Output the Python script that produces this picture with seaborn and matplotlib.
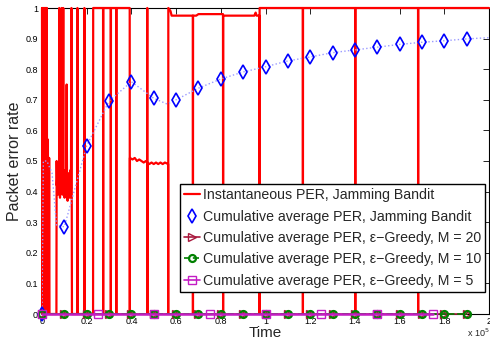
import matplotlib
matplotlib.use("Agg")
import matplotlib.pyplot as plt
from matplotlib.lines import Line2D
import seaborn as sns

# ---------------------------------------------------------------- data
# Instantaneous packet error rate of the jamming bandit (time, PER)
per_time = [
    0, 120, 240, 360, 480, 600, 720, 840, 960, 1080, 1200, 1320, 1440, 1560,
    1680, 1800, 1920, 2040, 2160, 2280,
    2400, 2520, 2640, 2760, 2900, 3050, 3200, 3350,
    6450, 6550, 6650, 6900, 7150, 7400, 7650, 7720, 7800, 8050, 8300, 8550,
    8790, 8880, 9100, 9400, 9510, 9600, 9850, 10100, 10350, 10600, 10850,
    11030, 11200, 11450, 11700, 11950, 12200, 12450, 12700, 12950, 13170, 13400,
    15800, 15850, 15900,
    18920, 18970, 19020,
    22850, 22900,
    27320, 27370, 27420,
    30750, 30800, 30850,
    33210, 33260, 33310,
    39240, 39290, 39340,
    40500, 41500, 42500, 43500, 44500, 45500, 46500, 47050, 47100, 47150,
    47200, 48000, 49000, 50000, 51000, 52000, 53000, 54000, 55000, 56420,
    56470, 56520, 57500, 58000,
    60000, 64000, 67490, 67540, 67590, 69000, 70000, 75000, 80980, 81030,
    81080, 85000, 90000, 95000, 95600, 96000, 97270, 97320, 97370,
    116690, 116740, 116790,
    140130, 140180, 140230,
    168250, 168300, 168350,
    200000,
]
per_value = [
    1, 0, 1, 0, 1, 0, 1, 0, 1, 0, 1, 0, 1, 0,
    1, 0, 1, 0, 1, 0,
    0.57, 0, 0.57, 0, 0.51, 0, 0.51, 0,
    0, 0.50, 0.42, 0.47, 0.39, 0.45, 0.40, 1, 0.44, 0.38, 0.48, 0.41,
    1, 0.46, 0.39, 0.44, 1, 0.40, 0.47, 0.38, 0.45, 0.41, 0.49,
    0.75, 0.42, 0.37, 0.46, 0.40, 0.44, 0.38, 0.47, 0.41, 1, 0,
    0, 1, 0,
    0, 1, 0,
    0, 1,
    1, 0, 1,
    1, 0, 1,
    1, 0, 1,
    1, 0, 0.51,
    0.505, 0.51, 0.50, 0.505, 0.50, 0.495, 0.50, 0.495, 1, 0,
    0.495, 0.49, 0.495, 0.49, 0.495, 0.49, 0.495, 0.49, 0.495, 0.49,
    0, 1, 0.99, 0.975,
    0.975, 0.975, 0.975, 0, 0.975, 0.975, 0.98, 0.98, 0.98, 0,
    0.975, 0.975, 0.975, 0.975, 0.985, 0.975, 0.975, 0, 1,
    1, 0, 1,
    1, 0, 1,
    1, 0, 1,
    1,
]

# Cumulative average PER of the jamming bandit
cum_time = [0, 600, 2200, 4500, 6500, 10000, 20000, 30000, 40000, 50000,
            56000, 60000, 70000, 80000, 90000, 100000, 110000, 120000,
            130000, 140000, 150000, 160000, 170000, 180000, 190000, 200000]
cum_value = [0, 0.50, 0.50, 0.46, 0.29, 0.285, 0.55, 0.696, 0.759, 0.705,
             0.686, 0.700, 0.738, 0.768, 0.791, 0.808, 0.827, 0.840,
             0.854, 0.863, 0.872, 0.881, 0.888, 0.893, 0.899, 0.903]
cum_marker_step = 10000

# Cumulative average PER of epsilon-greedy with M arms
greedy_time = [0, 10000, 20000, 30000, 40000, 50000, 60000, 70000, 80000, 90000,
               100000, 110000, 120000, 130000, 140000, 150000, 160000, 170000,
               180000, 190000]
greedy_m20 = [0, 0, 0, 0, 0, 0, 0, 0, 0, 0, 0, 0, 0, 0, 0, 0, 0, 0, 0, 0]
greedy_m10 = [0, 0, 0, 0, 0, 0, 0, 0, 0, 0, 0, 0, 0, 0, 0, 0, 0, 0, 0, 0]
greedy5_time = [0, 25000, 50000, 75000, 100000, 125000, 150000, 175000]
greedy_m5 = [0, 0, 0, 0, 0, 0, 0, 0]

labels = [
    "Instantaneous PER, Jamming Bandit",
    "Cumulative average PER, Jamming Bandit",
    "Cumulative average PER, \u03b5\u2212Greedy, M = 20",
    "Cumulative average PER, \u03b5\u2212Greedy, M = 10",
    "Cumulative average PER, \u03b5\u2212Greedy, M = 5",
]

xticks = [0, 20000, 40000, 60000, 80000, 100000, 120000, 140000, 160000,
          180000, 200000]
xtick_labels = ["0", "0.2", "0.4", "0.6", "0.8", "1", "1.2", "1.4", "1.6",
                "1.8", "2"]
yticks = [0, 0.1, 0.2, 0.3, 0.4, 0.5, 0.6, 0.7, 0.8, 0.9, 1]
ytick_labels = ["0", "0.1", "0.2", "0.3", "0.4", "0.5", "0.6", "0.7", "0.8",
                "0.9", "1"]

# ---------------------------------------------------------------- style
sns.set_style("white")
plt.rcParams["font.family"] = ["Liberation Sans", "DejaVu Sans"]

RED = "#ff0000"
BLUE = "#0000ff"
DOTTED_BLUE = "#9a9aff"
DARK_RED = "#a8183c"
GREEN = "#008000"
MAGENTA = "#c41cc4"

DIAMOND = dict(marker="d", markersize=7.5, markerfacecolor="none",
               markeredgecolor=BLUE, markeredgewidth=1.2)
TRIANGLE = dict(marker=">", markersize=6, markerfacecolor="none",
                markeredgecolor=DARK_RED, markeredgewidth=1.0)
CIRCLE = dict(marker="o", markersize=5, markerfacecolor="none",
              markeredgecolor=GREEN, markeredgewidth=1.6)
SQUARE = dict(marker="s", markersize=5.5, markerfacecolor="none",
              markeredgecolor=MAGENTA, markeredgewidth=1.0)

fig = plt.figure(figsize=(4.9, 3.41), dpi=100)
ax = fig.add_axes([42 / 490, 27 / 341, 447 / 490, 306 / 341])

# instantaneous PER
sns.lineplot(x=per_time, y=per_value, sort=False, estimator=None, ax=ax,
             color=RED, lw=1.6, zorder=3, clip_on=False)

# cumulative average of the bandit: dotted trace plus diamond markers
sns.lineplot(x=cum_time, y=cum_value, sort=False, estimator=None, ax=ax,
             color=DOTTED_BLUE, lw=1.0, linestyle=":", zorder=4)
mk_t = [t for t in cum_time if t % cum_marker_step == 0 and t < 200000]
mk_v = [v for t, v in zip(cum_time, cum_value)
        if t % cum_marker_step == 0 and t < 200000]
sns.lineplot(x=mk_t, y=mk_v, sort=False, estimator=None, ax=ax,
             linestyle="none", zorder=5, clip_on=False, **DIAMOND)

# epsilon-greedy curves
sns.lineplot(x=greedy_time, y=greedy_m20, sort=False, estimator=None, ax=ax,
             color=DARK_RED, lw=1.2, zorder=6, clip_on=False, **TRIANGLE)
sns.lineplot(x=greedy_time, y=greedy_m10, sort=False, estimator=None, ax=ax,
             color=GREEN, lw=1.2, linestyle="--", zorder=7, clip_on=False,
             **CIRCLE)
sns.lineplot(x=greedy5_time, y=greedy_m5, sort=False, estimator=None, ax=ax,
             color=MAGENTA, lw=1.8, zorder=8, clip_on=False, **SQUARE)

ax.set_xlim(0, 200000)
ax.set_ylim(0, 1)
ax.set_xticks(xticks)
ax.set_xticklabels(xtick_labels)
ax.set_yticks(yticks)
ax.set_yticklabels(ytick_labels)
ax.tick_params(direction="in", top=True, right=True, length=4, width=0.6,
               labelsize=6.5, colors="black")
ax.tick_params(axis="x", pad=2.5)
ax.tick_params(axis="y", pad=3)
for s in ax.spines.values():
    s.set_color("black")
    s.set_linewidth(0.8)

ax.set_xlabel("Time", fontsize=11, labelpad=-0.5)
ax.set_ylabel("Packet error rate", fontsize=11.5, labelpad=2)
fig.text(467 / 490, 1 - 337 / 341, r"x 10$^5$", fontsize=6.5, ha="left",
         va="baseline")

handles = [
    Line2D([], [], color=RED, lw=1.6),
    Line2D([], [], linestyle="none", **DIAMOND),
    Line2D([], [], color=DARK_RED, lw=1.2, **TRIANGLE),
    Line2D([], [], color=GREEN, lw=1.2, linestyle="--", **CIRCLE),
    Line2D([], [], color=MAGENTA, lw=1.2, **SQUARE),
]
leg = ax.legend(handles, labels, loc="upper right",
                bbox_to_anchor=(485 / 490, 1 - 184 / 341),
                bbox_transform=fig.transFigure, borderaxespad=0,
                fontsize=10.2, frameon=True, fancybox=False, framealpha=1,
                edgecolor="black", handlelength=1.1, handletextpad=0.2,
                labelspacing=0.52, borderpad=0.3)
leg.get_frame().set_linewidth(1.0)
leg.set_zorder(10)

fig.savefig("out.png", dpi=100)
